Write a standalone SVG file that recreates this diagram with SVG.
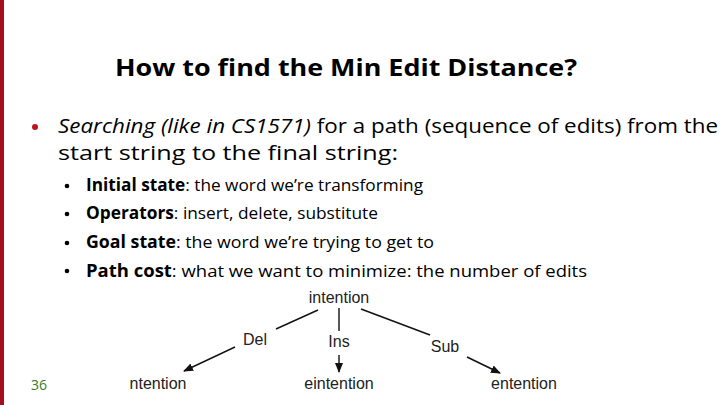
<svg xmlns="http://www.w3.org/2000/svg" width="720" height="405" viewBox="0 0 720 405">
<style>
.t{font-family:"Open Sans","Noto Sans",sans-serif;fill:#000}
.h{font-family:"Liberation Sans",Arial,sans-serif;font-size:16px;fill:#222}
.c{stroke:#111;stroke-width:1.4;fill:none}
</style>
<defs><marker id="a" markerWidth="10" markerHeight="8" refX="9" refY="4" orient="auto" markerUnits="userSpaceOnUse"><path d="M0,0 L10,4 L0,8 Z" fill="#111"/></marker></defs>
<rect width="720" height="405" fill="#fff"/>
<rect x="0" y="0" width="4" height="405" fill="#a50e1e"/>
<text class="t" x="115" y="76" font-size="24" font-weight="bold" textLength="462" lengthAdjust="spacingAndGlyphs">How to find the Min Edit Distance?</text>
<circle cx="35" cy="127" r="3" fill="#c0111f"/>
<text class="t" x="58" y="133" font-size="20" textLength="660" lengthAdjust="spacingAndGlyphs"><tspan font-style="italic">Searching (like in CS1571)</tspan> for a path (sequence of edits) from the</text>
<text class="t" x="58" y="160" font-size="20" textLength="340" lengthAdjust="spacingAndGlyphs">start string to the final string:</text>
<g font-size="17" class="t">
<circle cx="67" cy="186" r="2.3" fill="#000"/><text class="t" x="86" y="191" font-size="17" textLength="337" lengthAdjust="spacingAndGlyphs"><tspan font-weight="bold">Initial state</tspan>: the word we’re transforming</text>
<circle cx="67" cy="214" r="2.3" fill="#000"/><text class="t" x="86" y="219" font-size="17" textLength="292" lengthAdjust="spacingAndGlyphs"><tspan font-weight="bold">Operators</tspan>: insert, delete, substitute</text>
<circle cx="67" cy="243" r="2.3" fill="#000"/><text class="t" x="86" y="248" font-size="17" textLength="348" lengthAdjust="spacingAndGlyphs"><tspan font-weight="bold">Goal state</tspan>:  the word we’re trying to get to</text>
<circle cx="67" cy="271" r="2.3" fill="#000"/><text class="t" x="86" y="277" font-size="17" textLength="501" lengthAdjust="spacingAndGlyphs"><tspan font-weight="bold">Path cost</tspan>: what we want to minimize: the number of edits</text>
</g>
<text x="31" y="390" font-family="Open Sans,sans-serif" font-size="14" fill="#3a7a2a">36</text>
<g id="connectors">
<line class="c" x1="318" y1="310" x2="276" y2="329"/>
<line class="c" x1="235" y1="347" x2="184" y2="371" marker-end="url(#a)"/>
<line class="c" x1="339" y1="308" x2="339" y2="331"/>
<line class="c" x1="339" y1="355" x2="339" y2="372" marker-end="url(#a)"/>
<line class="c" x1="361" y1="309" x2="430" y2="335"/>
<line class="c" x1="467" y1="357" x2="500" y2="373" marker-end="url(#a)"/>
</g>
<g id="n-intention"><text class="h" x="339" y="303" text-anchor="middle">intention</text></g>
<g id="l-del"><text class="h" x="255" y="345" text-anchor="middle">Del</text></g>
<g id="l-ins"><text class="h" x="339" y="347" text-anchor="middle">Ins</text></g>
<g id="l-sub"><text class="h" x="445" y="352" text-anchor="middle">Sub</text></g>
<g id="n-ntention"><text class="h" x="158" y="389" text-anchor="middle">ntention</text></g>
<g id="n-eintention"><text class="h" x="339" y="389" text-anchor="middle">eintention</text></g>
<g id="n-entention"><text class="h" x="524" y="389" text-anchor="middle">entention</text></g>
</svg>
